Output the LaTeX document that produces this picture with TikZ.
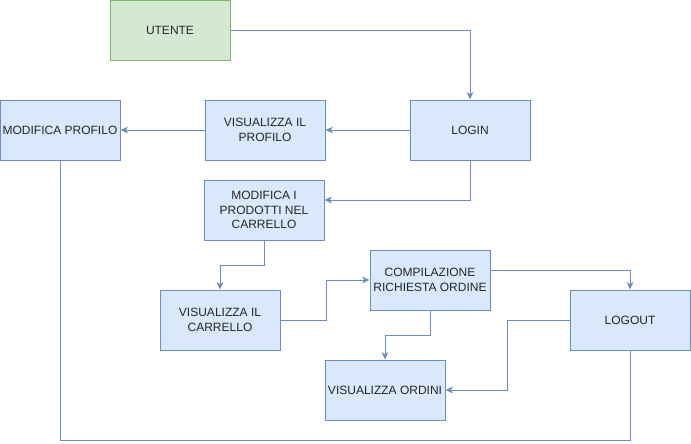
\documentclass[tikz,border=0pt]{standalone}
\usepackage{fontspec}
\setmainfont{Liberation Sans}
\usetikzlibrary{arrows.meta,calc}
\definecolor{bfill}{HTML}{DAE8FC}
\definecolor{bline}{HTML}{6C8EBF}
\definecolor{gfill}{HTML}{D5E8D4}
\definecolor{gline}{HTML}{82B366}
\begin{document}
\begin{tikzpicture}[x=0.75pt,y=-0.75pt,
 box/.style={draw=bline,fill=bfill,line width=0.75pt,minimum width=90pt,minimum height=45pt,inner sep=0pt,align=center,font=\fontsize{9}{11}\selectfont,text=black!85},
 gbox/.style={box,draw=gline,fill=gfill},
 conn/.style={draw=bline,line width=0.75pt,-{Stealth[length=5.5pt,width=5pt,inset=1.5pt]}},
 plain/.style={draw=bline,line width=0.75pt}]
\useasboundingbox (0,0) rectangle (691,443);
\node[gbox] (utente) at (170,30) {UTENTE};
\node[box] (login) at (470,130) {LOGIN};
\node[box] (vprof) at (265,130) {VISUALIZZA IL\\PROFILO};
\node[box] (mprof) at (60,130) {MODIFICA PROFILO};
\node[box] (mprod) at (264,210) {MODIFICA I\\PRODOTTI NEL\\CARRELLO};
\node[box] (vcarr) at (220,320) {VISUALIZZA IL\\CARRELLO};
\node[box] (comp) at (430,280) {COMPILAZIONE\\RICHIESTA ORDINE};
\node[box] (logout) at (630,320) {LOGOUT};
\node[box] (vord) at (385,390) {VISUALIZZA ORDINI};
\draw[conn] (utente.east) -| (login.north);
\draw[conn] (login.west) -- (vprof.east);
\draw[conn] (vprof.west) -- (mprof.east);
\draw[conn] (login.south) |- ($(mprod.east)+(0,-10)$);
\draw[conn] (mprod.south) -- ++(0,25) -| (vcarr.north);
\draw[conn] (vcarr.east) -- ++(46,0) |- (comp.west);
\draw[conn] ($(comp.east)+(0,-10)$) -| (logout.north);
\draw[conn] (comp.south) -- ++(0,25) -| (vord.north);
\draw[conn] (logout.west) -- ++(-62,0) |- (vord.east);
\draw[plain] (mprof.south) -- ++(0,280) -| (logout.south);
\end{tikzpicture}
\end{document}
